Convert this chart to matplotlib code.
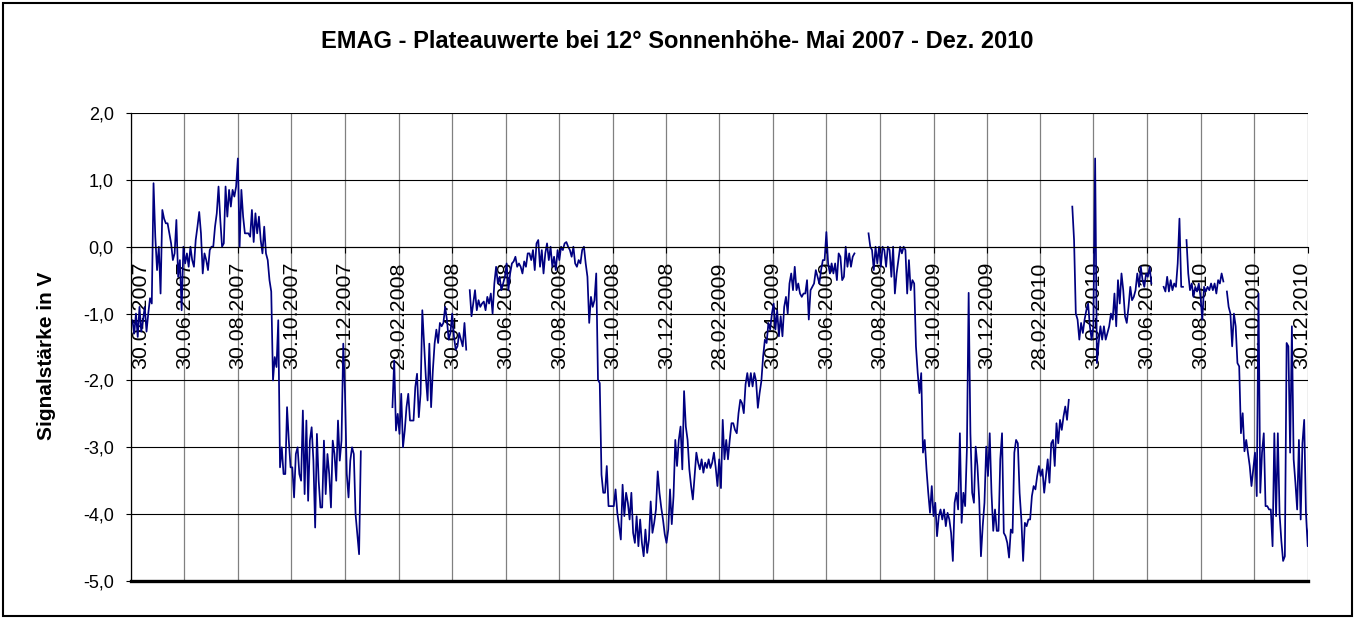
import matplotlib
matplotlib.use('Agg')
import matplotlib.pyplot as plt
import matplotlib.transforms as mtransforms
from matplotlib.patches import Rectangle
import numpy as np
import pandas as pd

plt.rcParams['font.family'] = ['Liberation Sans', 'DejaVu Sans']

nan = np.nan

# EMAG plateau values (V), one reading every 2 days from 02.05.2007, nan = no data
start_date = '2007-05-02'
step_days = 2
plateau_v = [
    -1.1, -1.3, -1.0, -1.35, -0.9, -1.27, -1.1, -0.9, -1.27, -1.0,
    -0.77, -0.85, 0.95, 0.15, -0.35, 0.0, -0.7, 0.55, 0.42, 0.35,
    0.35, 0.2, 0.05, -0.2, -0.1, 0.4, -0.45, -0.2, -0.95, 0.0,
    -0.25, -0.1, -0.3, 0.0, -0.2, -0.3, 0.1, 0.3, 0.52, 0.2,
    -0.4, -0.1, -0.2, -0.35, -0.05, 0.0, 0.0, 0.3, 0.5, 0.9,
    0.4, 0.0, 0.05, 0.9, 0.45, 0.85, 0.6, 0.85, 0.75, 0.9,
    1.32, 0.0, 0.85, 0.45, 0.2, 0.2, 0.2, 0.15, 0.55, 0.07,
    0.5, 0.2, 0.45, 0.1, -0.1, 0.3, -0.1, -0.2, -0.5, -0.67,
    -2.0, -1.65, -1.8, -1.1, -3.3, -3.0, -3.4, -3.4, -2.4, -2.9,
    -3.3, -3.3, -3.75, -3.1, -3.0, -3.4, -3.5, -2.45, -3.7, -2.6,
    -3.8, -2.9, -2.7, -3.2, -4.2, -2.8, -3.5, -3.9, -3.9, -2.9,
    -3.7, -3.1, -3.4, -3.9, -2.9, -3.1, -3.5, -2.6, -3.2, -2.9,
    -1.45, -2.2, -3.4, -3.75, -3.2, -3.0, -3.1, -4.0, -4.3, -4.6,
    -3.06, nan, nan, nan, nan, nan, nan, nan, nan, nan,
    nan, nan, nan, nan, nan, nan, nan, nan, -2.4, -1.7,
    -2.75, -2.5, -2.8, -2.2, -3.0, -2.75, -2.4, -2.2, -2.6, -2.6,
    -2.6, -2.1, -1.9, -2.55, -2.2, -0.95, -1.45, -1.95, -2.3, -1.45,
    -2.4, -1.85, -1.45, -1.24, -1.44, -1.14, -1.19, -1.14, -0.9, -1.09,
    -1.39, -1.29, -1.0, -1.34, -1.54, -1.49, -1.29, -1.39, -1.49, -1.14,
    -1.54, nan, -0.65, -1.04, -0.85, -0.65, -0.95, -0.8, -0.9, -0.85,
    -0.82, -0.95, -0.75, -0.85, -0.7, -1.0, -0.55, -0.3, -0.55, -0.45,
    -0.65, -0.55, -0.45, -0.25, -0.65, -0.4, -0.25, -0.22, -0.15, -0.3,
    -0.25, -0.3, -0.4, -0.22, -0.3, -0.1, -0.1, -0.2, -0.05, -0.35,
    0.05, 0.1, -0.3, -0.05, -0.4, -0.1, 0.05, -0.2, 0.0, -0.3,
    -0.15, -0.35, -0.05, -0.2, 0.0, -0.05, 0.05, 0.07, 0.0, -0.05,
    -0.15, 0.0, -0.25, -0.3, -0.2, -0.25, -0.05, 0.0, -0.25, -0.45,
    -1.14, -0.75, -0.9, -0.8, -0.4, -1.99, -2.04, -3.41, -3.68, -3.68,
    -3.28, -3.88, -3.88, -3.88, -3.88, -3.63, -3.98, -4.18, -4.38, -3.56,
    -4.03, -3.68, -3.83, -4.08, -3.68, -4.28, -4.43, -4.03, -4.48, -4.08,
    -4.43, -4.63, -4.23, -4.58, -4.38, -3.81, -4.28, -4.13, -3.93, -3.36,
    -3.68, -3.9, -4.08, -4.3, -4.43, -4.23, -3.63, -4.15, -3.73, -2.89,
    -3.28, -2.89, -2.69, -3.33, -2.16, -2.69, -2.89, -3.33, -3.58, -3.78,
    -3.43, -3.08, -3.23, -3.33, -3.18, -3.38, -3.23, -3.31, -3.18, -3.31,
    -3.23, -3.08, -3.3, -3.58, -3.18, -3.61, -2.59, -3.18, -2.89, -3.18,
    -2.89, -2.64, -2.64, -2.74, -2.79, -2.49, -2.29, -2.34, -2.49, -2.06,
    -1.89, -2.09, -1.89, -2.09, -1.89, -2.01, -2.41, -2.19, -2.01, -1.64,
    -1.39, -1.44, -1.14, -1.24, -1.0, -0.85, -1.24, -0.95, -1.34, -1.04,
    -1.34, -0.9, -0.75, -1.0, -0.55, -0.4, -0.65, -0.3, -0.65, -0.55,
    -0.7, -0.75, -0.7, -0.7, -0.5, -1.09, -0.65, -0.6, -0.55, -0.35,
    -0.45, -0.55, -0.35, -0.2, -0.2, 0.22, -0.25, -0.4, -0.25, -0.4,
    -0.25, -0.5, -0.1, -0.15, -0.5, -0.45, 0.0, -0.3, -0.1, -0.3,
    -0.15, -0.1, nan, nan, nan, nan, nan, nan, nan, 0.2,
    0.0, -0.05, -0.35, 0.0, -0.25, 0.0, -0.3, 0.0, -0.05, -0.3,
    0.0, -0.05, -0.45, 0.0, -0.7, -0.4, -0.2, 0.0, -0.1, 0.0,
    -0.05, -0.7, -0.2, -0.65, -0.5, -0.55, -1.49, -1.89, -2.19, -1.89,
    -3.08, -2.89, -3.33, -3.68, -3.98, -3.58, -4.03, -3.83, -4.33, -4.03,
    -3.93, -4.08, -3.93, -4.18, -3.98, -4.08, -4.28, -4.7, -3.83, -3.68,
    -3.93, -2.79, -4.13, -3.68, -3.88, -3.03, -0.69, -2.79, -3.68, -3.83,
    -2.99, -3.28, -3.78, -4.63, -4.18, -3.83, -2.99, -3.43, -2.79, -3.68,
    -4.25, -3.93, -4.25, -4.25, -3.18, -2.79, -4.28, -4.33, -4.43, -4.65,
    -4.23, -4.28, -3.08, -2.89, -2.94, -3.68, -4.08, -4.7, -4.13, -4.18,
    -4.08, -4.08, -3.73, -3.58, -3.63, -3.43, -3.28, -3.43, -3.33, -3.68,
    -3.43, -3.18, -3.53, -2.94, -2.89, -3.28, -2.64, -2.94, -2.59, -2.74,
    -2.54, -2.39, -2.59, -2.29, nan, 0.6, 0.1, -1.0, -1.09, -1.39,
    -1.14, -1.29, -1.09, -0.95, -0.85, -1.19, -1.39, -1.19, 1.32, -1.74,
    -1.44, -1.19, -1.39, -1.19, -1.39, -1.29, -1.19, -1.0, -1.09, -0.7,
    -1.19, -0.5, -0.85, -0.4, -0.65, -1.04, -1.14, -0.9, -0.6, -0.8,
    -0.75, -0.65, -0.4, -0.6, -0.3, -0.5, -0.6, -0.4, -0.45, -0.3,
    -0.55, nan, nan, nan, nan, nan, nan, -0.6, -0.67, -0.45,
    -0.67, -0.5, -0.65, -0.55, -0.6, -0.25, 0.42, -0.6, -0.6, nan,
    0.1, -0.4, -0.65, -0.55, -0.75, -0.6, -0.67, -0.55, -0.75, -1.09,
    -0.6, -0.67, -0.6, -0.65, -0.55, -0.65, -0.55, -0.7, -0.5, -0.55,
    -0.4, -0.52, nan, -0.67, -0.9, -1.0, -1.49, -1.0, -1.19, -1.74,
    -1.79, -2.79, -2.49, -3.06, -2.89, -3.08, -3.28, -3.58, -3.33, -3.08,
    -3.73, -0.7, -3.68, -3.08, -2.79, -3.88, -3.88, -3.93, -3.93, -4.48,
    -2.79, -4.03, -2.79, -4.0, -4.4, -4.7, -4.63, -1.44, -1.49, -3.08,
    -1.19, -3.18, -3.53, -3.93, -2.89, -4.08, -2.94, -2.59, -3.98, -4.48,
    -4.05,
]

tick_dates = [
    '2007-04-30', '2007-06-30', '2007-08-30', '2007-10-30', '2007-12-30',
    '2008-02-29', '2008-04-30', '2008-06-30', '2008-08-30', '2008-10-30',
    '2008-12-30', '2009-02-28', '2009-04-30', '2009-06-30', '2009-08-30',
    '2009-10-30', '2009-12-30', '2010-02-28', '2010-04-30', '2010-06-30',
    '2010-08-30', '2010-10-30', '2010-12-30',
]
tick_labels = [
    '30.04.2007', '30.06.2007', '30.08.2007', '30.10.2007', '30.12.2007',
    '29.02.2008', '30.04.2008', '30.06.2008', '30.08.2008', '30.10.2008',
    '30.12.2008', '28.02.2009', '30.04.2009', '30.06.2009', '30.08.2009',
    '30.10.2009', '30.12.2009', '28.02.2010', '30.04.2010', '30.06.2010',
    '30.08.2010', '30.10.2010', '30.12.2010',
]
y_ticks = [2, 1, 0, -1, -2, -3, -4, -5]
y_labels = ['2,0', '1,0', '0,0', '-1,0', '-2,0', '-3,0', '-4,0', '-5,0']

dates = pd.date_range(start_date, periods=len(plateau_v), freq=f'{step_days}D')
ticks = pd.to_datetime(tick_dates)

W, H = 1355, 619
fig = plt.figure(figsize=(W / 100, H / 100), dpi=100)
fig.patch.set_facecolor('white')
ax = fig.add_axes([130.7 / W, 1 - 581 / H, (1307.7 - 130.7) / W, (581 - 113) / H])

ax.plot(dates, plateau_v, color='#000080', lw=1.25)

ax.set_xlim(ticks[0], ticks[-1])
ax.set_ylim(-5, 2)

# value axis
ax.set_yticks(y_ticks)
ax.set_yticklabels(y_labels, fontsize=13)
ax.tick_params(axis='y', direction='out', length=3.6, width=0.8, pad=8.6)
ax.grid(axis='y', color='black', lw=0.8)

# date axis crosses at 0
ax.spines['bottom'].set_position(('data', 0))
ax.spines['bottom'].set_linewidth(0.8)
ax.spines['left'].set_linewidth(0.9)
ax.spines['top'].set_visible(False)
ax.spines['right'].set_visible(False)
ax.set_xticks(ticks)
ax.set_xticklabels(tick_labels, rotation=90, fontsize=15.4, ha='center', va='top')
ax.tick_params(axis='x', direction='out', length=4.3, width=0.8, pad=6.5)
ax.grid(axis='x', color='#808080', lw=0.9)
ax.axhline(-5, color='black', lw=2.4, clip_on=False)

xl = ax.get_xticklabels()
xl[0].set_transform(xl[0].get_transform() + mtransforms.ScaledTranslation(0.10, 0, fig.dpi_scale_trans))
xl[-1].set_transform(xl[-1].get_transform() + mtransforms.ScaledTranslation(-0.06, 0, fig.dpi_scale_trans))

fig.text(0.5, 1 - 42 / H, 'EMAG - Plateauwerte bei 12° Sonnenhöhe- Mai 2007 - Dez. 2010',
         ha='center', va='center', fontsize=17, fontweight='bold')
fig.text(47 / W, 1 - 356 / H, 'Signalstärke in V', rotation=90,
         ha='center', va='center', fontsize=15, fontweight='bold')

fig.patches.append(Rectangle((3 / W, 3 / H), (W - 6) / W, (H - 6) / H,
                             transform=fig.transFigure, fill=False,
                             ec='black', lw=1.5))

fig.savefig('out.png', dpi=100)
